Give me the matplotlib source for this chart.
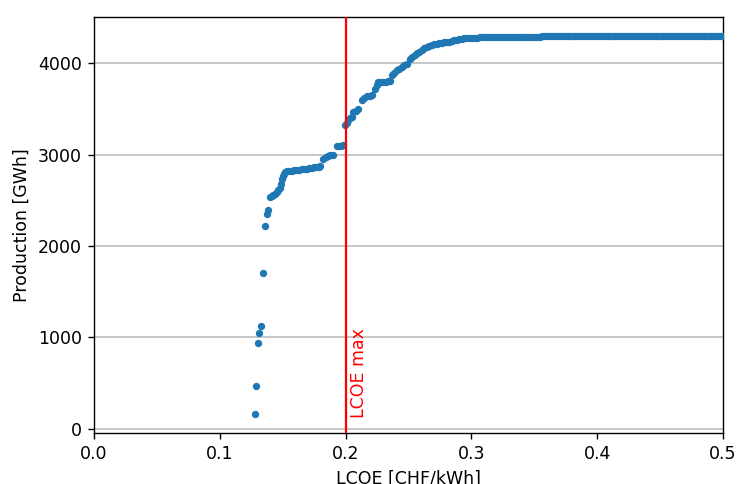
import matplotlib
matplotlib.use('agg')
from matplotlib import pyplot as plt

# LCOE [CHF/kWh] vs cumulative production [GWh]
lcoe = [
    0.1280, 0.1288, 0.1300, 0.1312, 0.1327, 0.1341, 0.1357, 0.1373, 0.1383,
    0.1400, 0.1412, 0.1425, 0.1439, 0.1452, 0.1465, 0.1475, 0.1484, 0.1494,
    0.1503, 0.1513, 0.1522, 0.1532, 0.1550, 0.1570, 0.1590, 0.1610, 0.1630,
    0.1650, 0.1670, 0.1690, 0.1710, 0.1730, 0.1750, 0.1770, 0.1785, 0.1797,
    0.1823, 0.1845, 0.1860, 0.1876, 0.1900, 0.1929, 0.1945, 0.1960, 0.1982,
    0.1995, 0.2010, 0.2022, 0.2035, 0.2048, 0.2061, 0.2080, 0.2101, 0.2128,
    0.2148, 0.2168, 0.2190, 0.2207, 0.2234, 0.2247, 0.2260, 0.2280, 0.2300,
    0.2320, 0.2340, 0.2353, 0.2366, 0.2386, 0.2406, 0.2425, 0.2445, 0.2465,
    0.2485, 0.2512, 0.2530, 0.2548, 0.2565, 0.2585, 0.2605, 0.2625, 0.2645,
    0.2665, 0.2685, 0.2705, 0.2725, 0.2745, 0.2765, 0.2785, 0.2805, 0.2825,
    0.2845, 0.2865, 0.2885, 0.2905, 0.2925, 0.2945, 0.2965, 0.2985, 0.3005,
    0.3025, 0.3045, 0.3065, 0.3085, 0.3105, 0.3125, 0.3145, 0.3165, 0.3185,
    0.3205, 0.3225, 0.3245, 0.3265, 0.3285, 0.3305, 0.3325, 0.3345, 0.3365,
    0.3385, 0.3405, 0.3425, 0.3445, 0.3465, 0.3485, 0.3505, 0.3525, 0.3545,
    0.3565, 0.3585, 0.3605, 0.3625, 0.3645, 0.3665, 0.3685, 0.3705, 0.3725,
    0.3745, 0.3765, 0.3785, 0.3805, 0.3825, 0.3845, 0.3865, 0.3885, 0.3905,
    0.3925, 0.3945, 0.3965, 0.3985, 0.4005, 0.4025, 0.4045, 0.4065, 0.4085,
    0.4105, 0.4125, 0.4145, 0.4165, 0.4185, 0.4205, 0.4225, 0.4245, 0.4265,
    0.4285, 0.4305, 0.4325, 0.4345, 0.4365, 0.4385, 0.4405, 0.4425, 0.4445,
    0.4465, 0.4485, 0.4505, 0.4525, 0.4545, 0.4565, 0.4585, 0.4605, 0.4625,
    0.4645, 0.4665, 0.4685, 0.4705, 0.4725, 0.4745, 0.4765, 0.4785, 0.4805,
    0.4825, 0.4845, 0.4865, 0.4885, 0.4905, 0.4925, 0.4945, 0.4965, 0.4985,
    0.5005,
]
production = [
    164, 471, 935, 1049, 1121, 1702, 2217, 2353, 2397,
    2540, 2542, 2556, 2572, 2590, 2608, 2640, 2681, 2736,
    2765, 2790, 2810, 2820, 2823, 2826, 2829, 2832, 2835,
    2839, 2843, 2847, 2851, 2855, 2859, 2863, 2867, 2871,
    2955, 2970, 2985, 2992, 2995, 3090, 3095, 3098, 3101,
    3320, 3345, 3375, 3395, 3412, 3466, 3480, 3503, 3595,
    3615, 3638, 3645, 3649, 3722, 3760, 3795, 3797, 3798,
    3799, 3800, 3800, 3868, 3895, 3923, 3940, 3955, 3975,
    3996, 4051, 4072, 4090, 4106, 4125, 4145, 4162, 4179,
    4190, 4200, 4207, 4215, 4220, 4225, 4228, 4230, 4232,
    4240, 4250, 4258, 4263, 4268, 4271, 4273, 4275, 4276,
    4277, 4279, 4281, 4282, 4284, 4285, 4286, 4287, 4287,
    4288, 4288, 4288, 4289, 4289, 4289, 4289, 4290, 4290,
    4290, 4290, 4290, 4290, 4290, 4291, 4291, 4291, 4291,
    4292, 4296, 4297, 4297, 4297, 4297, 4298, 4298, 4298,
    4298, 4298, 4298, 4298, 4298, 4299, 4299, 4299, 4299,
    4299, 4299, 4299, 4299, 4299, 4299, 4299, 4299, 4299,
    4299, 4299, 4299, 4299, 4300, 4300, 4300, 4300, 4300,
    4300, 4300, 4300, 4300, 4300, 4300, 4300, 4300, 4300,
    4300, 4300, 4300, 4300, 4300, 4300, 4300, 4300, 4300,
    4300, 4300, 4300, 4300, 4300, 4300, 4300, 4300, 4300,
    4300, 4300, 4300, 4300, 4300, 4300, 4300, 4300, 4300,
    4300,
]
lcoe_max = 0.2

DPI = 125
fig = plt.figure(figsize=(738 / DPI, 484 / DPI), dpi=DPI)
ax = fig.add_axes([94 / 738, 1 - 433 / 484, (723 - 94) / 738, (433 - 17) / 484])

ax.scatter(lcoe, production, s=18, color='#1f77b4', zorder=3, linewidths=0)
ax.axvline(lcoe_max, color='red', linewidth=1.3, zorder=4)
ax.text(lcoe_max + 0.0035, 120, 'LCOE max', color='red', rotation=90,
        ha='left', va='bottom')

ax.set_xlim(0, 0.5)
ax.set_ylim(-45, 4505)
ax.set_xticks([0.0, 0.1, 0.2, 0.3, 0.4, 0.5])
ax.set_yticks([0, 1000, 2000, 3000, 4000])
ax.grid(axis='y', color='#c0c0c0', linewidth=1.0)
ax.set_axisbelow(True)

ax.set_xlabel('LCOE [CHF/kWh]')
ax.set_ylabel('Production [GWh]')

fig.savefig('out.png', dpi=DPI)
plt.close()
